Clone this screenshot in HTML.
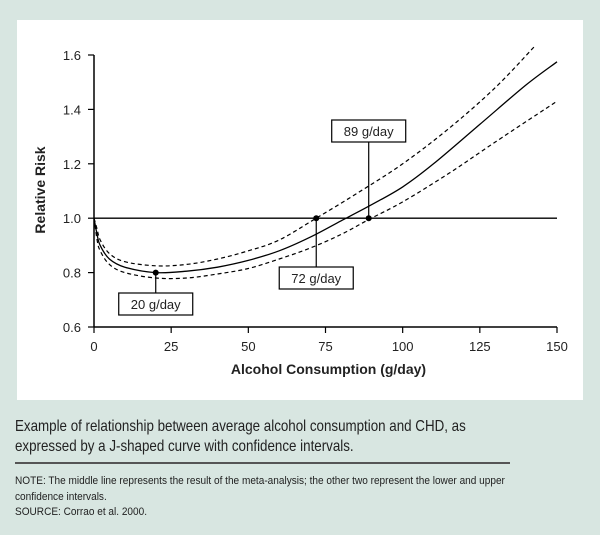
<!DOCTYPE html>
<html><head><meta charset="utf-8"><style>
body{margin:0;width:600px;height:535px;background:#d8e6e1;font-family:"Liberation Sans",sans-serif;position:relative;overflow:hidden}
.cap{position:absolute;left:15px;top:417px;font-size:16px;line-height:20px;color:#222;transform:scaleX(0.835);transform-origin:0 0;white-space:nowrap}
.rule{position:absolute;left:15px;top:462px;width:495px;height:2px;background:#555}
.note{position:absolute;left:15px;top:474px;font-size:11px;line-height:15.5px;color:#222;transform:scaleX(0.915);transform-origin:0 0;white-space:nowrap}
</style></head><body>
<svg width="600" height="400" style="position:absolute;left:0;top:0">
<rect x="17" y="20" width="566" height="380" fill="#fff"/>
<g id="g"></g>
</svg>
<div class="cap">Example of relationship between average alcohol consumption and CHD, as<br>expressed by a J-shaped curve with confidence intervals.</div>
<div class="rule"></div>
<div class="note">NOTE: The middle line represents the result of the meta-analysis; the other two represent the lower and upper<br>confidence intervals.<br>SOURCE: Corrao et al. 2000.</div>
<script>
const xTicks=[0,25,50,75,100,125,150];
const yTicks=[0.6,0.8,1.0,1.2,1.4,1.6];
const yTickLabels=["0.6","0.8","1.0","1.2","1.4","1.6"];
const midX=[0,1,2,5,10,20,30,40,50,60,70,80,90,100,110,125,140,150];
const midY=[1.0,0.94,0.9,0.85,0.82,0.80,0.805,0.82,0.845,0.88,0.93,0.99,1.05,1.115,1.2,1.345,1.49,1.575];
const upX=[0,1,2,5,10,20,30,40,50,60,72,85,100,115,130,142.6];
const upY=[1.0,0.96,0.92,0.87,0.84,0.825,0.83,0.85,0.88,0.92,1.0,1.09,1.2,1.33,1.48,1.63];
const loX=[0,1,2,5,10,20,30,40,50,60,70,80,89,100,115,130,150];
const loY=[1.0,0.92,0.88,0.83,0.80,0.78,0.78,0.795,0.815,0.85,0.89,0.94,0.995,1.06,1.165,1.28,1.43];
const markX=[20,72,89];
const markY=[0.80,1.0,1.0];
const markLabels=["20 g/day","72 g/day","89 g/day"];
const X=v=>94+v*463/150, Y=v=>327-(v-0.6)*272;
const ns="http://www.w3.org/2000/svg",g=document.getElementById('g');
function mk(t,a,txt){const e=document.createElementNS(ns,t);for(const k in a)e.setAttribute(k,a[k]);if(txt!=null)e.textContent=txt;g.appendChild(e);return e;}
let e;
e=mk('line',{x1:94,y1:Y(1.6),x2:94,y2:327,stroke:'#000','stroke-width':1.5});

e=mk('line',{x1:94,y1:327,x2:X(150),y2:327,stroke:'#000','stroke-width':1.5});

xTicks.forEach(v=>{
 e=mk('line',{x1:X(v),y1:327,x2:X(v),y2:333,stroke:'#000','stroke-width':1.2});
 
 e=mk('text',{x:X(v),y:351,'text-anchor':'middle','font-size':13,fill:'#222'},String(v));
 
});
yTicks.forEach((v,i)=>{
 e=mk('line',{x1:88,y1:Y(v),x2:94,y2:Y(v),stroke:'#000','stroke-width':1.2});
 
 e=mk('text',{x:81,y:Y(v)+5,'text-anchor':'end','font-size':13,fill:'#222'},yTickLabels[i]);
 
});
e=mk('text',{x:X(75)+3,y:374,'text-anchor':'middle','font-size':14,'font-weight':'bold',fill:'#222'},'Alcohol Consumption (g/day)');

e=mk('text',{x:0,y:0,'text-anchor':'middle','font-size':14,'font-weight':'bold',fill:'#222',transform:'translate(45,190) rotate(-90)'},'Relative Risk');

e=mk('line',{x1:94,y1:Y(1.0),x2:X(150),y2:Y(1.0),stroke:'#000','stroke-width':1.3});

function path(xs,ys){
 const p=xs.map((x,i)=>[X(x),Y(ys[i])]);
 let d='M'+p[0][0].toFixed(1)+','+p[0][1].toFixed(1);
 for(let i=0;i<p.length-1;i++){
  const p0=p[i-1]||p[i],p1=p[i],p2=p[i+1],p3=p[i+2]||p2;
  const c1=[p1[0]+(p2[0]-p0[0])/6,p1[1]+(p2[1]-p0[1])/6];
  const c2=[p2[0]-(p3[0]-p1[0])/6,p2[1]-(p3[1]-p1[1])/6];
  d+='C'+c1.map(v=>v.toFixed(1)).join(',')+' '+c2.map(v=>v.toFixed(1)).join(',')+' '+p2.map(v=>v.toFixed(1)).join(',');
 }
 return d;}
e=mk('path',{d:path(upX,upY),fill:'none',stroke:'#000','stroke-width':1.2,'stroke-dasharray':'4,3'});

e=mk('path',{d:path(loX,loY),fill:'none',stroke:'#000','stroke-width':1.2,'stroke-dasharray':'4,3'});

e=mk('path',{d:path(midX,midY),fill:'none',stroke:'#000','stroke-width':1.3});

const boxTop=[293,267,120];
markX.forEach((v,i)=>{
 const px=X(v),py=Y(markY[i]),bt=boxTop[i];
 const below=bt>py;
 e=mk('line',{x1:px,y1:py,x2:px,y2:below?bt:bt+22,stroke:'#000','stroke-width':1.2});
 
 e=mk('circle',{cx:px,cy:py,r:3,fill:'#000'});
 
 e=mk('rect',{x:px-37,y:bt,width:74,height:22,fill:'#fff',stroke:'#000','stroke-width':1.2});
 
 e=mk('text',{x:px,y:bt+16,'text-anchor':'middle','font-size':13,fill:'#222'},markLabels[i]);
 
});
</script>
</body></html>
